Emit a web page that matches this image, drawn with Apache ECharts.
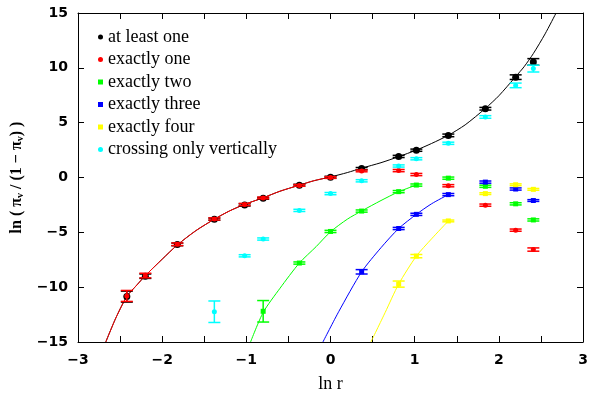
<!DOCTYPE html>
<html>
<head>
<meta charset="utf-8">
<script src="https://cdn.jsdelivr.net/npm/echarts@6/dist/echarts.min.js"></script>
<style>
  html, body { margin: 0; padding: 0; background: #fff; }
  #chart { width: 597px; height: 398px; }
</style>
</head>
<body>
<div id="chart"></div>
<script>
(function() {
    "use strict";

	/*----data: [ln r, ln(pi/(1-pi)), error]----*/
	var atLeastOne = [
		[-2.42, -10.86, 0.5], [-2.2, -9.0, 0.2], [-1.82, -6.1, 0.12], [-1.38, -3.8, 0.1],
		[-1.02, -2.5, 0.1], [-0.8, -1.9, 0.08], [-0.37, -0.7, 0.08], [0, 0.03, 0.08],
		[0.37, 0.81, 0.1], [0.81, 1.92, 0.1], [1.02, 2.49, 0.1], [1.4, 3.84, 0.12],
		[1.84, 6.27, 0.12], [2.2, 9.15, 0.21], [2.41, 10.54, 0.3]
	];
	var exactlyOne = [
		[-2.42, -10.8, 0.5], [-2.2, -8.94, 0.21], [-1.82, -6.09, 0.12], [-1.38, -3.78, 0.1],
		[-1.02, -2.46, 0.1], [-0.8, -1.86, 0.08], [-0.37, -0.72, 0.08], [0, 0.0, 0.08],
		[0.37, 0.6, 0.08], [0.81, 0.63, 0.1], [1.02, 0.27, 0.1], [1.4, -0.75, 0.1],
		[1.84, -2.52, 0.1], [2.2, -4.8, 0.1], [2.41, -6.57, 0.15]
	];
	var exactlyTwo = [
		[-0.8, -12.2, 0.98], [-0.37, -7.8, 0.1], [0, -4.92, 0.1], [0.37, -3.06, 0.1],
		[0.81, -1.29, 0.1], [1.02, -0.69, 0.1], [1.4, -0.06, 0.1], [1.84, -0.8, 0.1],
		[2.2, -2.4, 0.1], [2.41, -3.87, 0.1]
	];
	var exactlyThree = [
		[0.37, -8.6, 0.2], [0.81, -4.65, 0.1], [1.02, -3.36, 0.1], [1.4, -1.56, 0.1],
		[1.84, -0.42, 0.1], [2.2, -1.05, 0.1], [2.41, -2.1, 0.08]
	];
	var exactlyFour = [
		[0.81, -9.72, 0.28], [1.02, -7.17, 0.15], [1.4, -3.96, 0.08], [1.84, -1.47, 0.08],
		[2.2, -0.66, 0.08], [2.41, -1.08, 0.08]
	];
	var vertOnly = [
		[-1.38, -12.24, 0.98], [-1.02, -7.14, 0.1], [-0.8, -5.61, 0.1], [-0.37, -3.0, 0.1],
		[0, -1.47, 0.1], [0.37, -0.3, 0.1], [0.81, 1.05, 0.1], [1.02, 1.71, 0.1],
		[1.4, 3.12, 0.1], [1.84, 5.52, 0.12], [2.2, 8.4, 0.21], [2.41, 9.93, 0.31]
	];

	/*----fit curves----*/
	var fitAtLeastOne = [
		[-2.67, -15], [-2.55, -12.8], [-2.42, -10.85], [-2.3, -9.8], [-2.2, -8.95],
		[-2.0, -7.45], [-1.82, -6.15], [-1.6, -4.85], [-1.38, -3.8], [-1.2, -3.05],
		[-1.02, -2.45], [-0.8, -1.85], [-0.6, -1.25], [-0.37, -0.7], [-0.2, -0.3],
		[0, 0.05], [0.2, 0.45], [0.37, 0.85], [0.6, 1.35], [0.81, 1.9], [1.02, 2.5],
		[1.2, 3.1], [1.4, 3.85], [1.6, 4.8], [1.84, 6.3], [2.0, 7.45], [2.2, 9.2],
		[2.3, 10.1], [2.41, 11.3], [2.55, 13.1], [2.68, 15]
	];
	var fitOne = [
		[-2.67, -15], [-2.55, -12.8], [-2.42, -10.85], [-2.3, -9.8], [-2.2, -8.95],
		[-2.0, -7.45], [-1.82, -6.15], [-1.6, -4.85], [-1.38, -3.8], [-1.2, -3.05],
		[-1.02, -2.45], [-0.8, -1.85], [-0.6, -1.25], [-0.37, -0.7], [-0.2, -0.3],
		[0, 0.05]
	];
	var fitTwo = [
		[-0.95, -15], [-0.8, -12.3], [-0.6, -10.1], [-0.37, -7.8], [-0.17, -6.3],
		[0, -4.95], [0.2, -3.8], [0.37, -3.05], [0.6, -2.1], [0.81, -1.3], [1.02, -0.69]
	];
	var fitThree = [
		[-0.09, -15], [0.1, -12.2], [0.37, -8.6], [0.6, -6.4], [0.81, -4.65],
		[1.02, -3.36], [1.2, -2.4], [1.4, -1.56]
	];
	var fitFour = [
		[0.48, -15], [0.65, -12.3], [0.81, -9.72], [1.02, -7.17], [1.2, -5.6], [1.4, -3.96]
	];

	var names = ['at least one', 'exactly one', 'exactly two', 'exactly three', 'exactly four', 'crossing only vertically'];
	var colors = ['#000000', '#ff0000', '#00ff00', '#0000ff', '#ffff00', '#00ffff'];
	var symbols = ['circle', 'circle', 'rect', 'rect', 'rect', 'circle'];
	var pointSets = [atLeastOne, exactlyOne, exactlyTwo, exactlyThree, exactlyFour, vertOnly];
	var fitSets = [fitAtLeastOne, fitOne, fitTwo, fitThree, fitFour];

	function minusSign(v) {
		return String(v).replace('-', '\u2212');
	}

	function errorBar(color) {
		return function(params, api) {
			var x = api.value(0), y = api.value(1), e = api.value(2);
			var hi = api.coord([x, y + e]);
			var lo = api.coord([x, y - e]);
			var w = 6;
			var st = { stroke: color, lineWidth: 1.5 };
			return {
				type: 'group',
				children: [
					{ type: 'line', shape: { x1: hi[0], y1: hi[1], x2: lo[0], y2: lo[1] }, style: st },
					{ type: 'line', shape: { x1: hi[0] - w, y1: hi[1], x2: hi[0] + w, y2: hi[1] }, style: st },
					{ type: 'line', shape: { x1: lo[0] - w, y1: lo[1], x2: lo[0] + w, y2: lo[1] }, style: st }
				]
			};
		};
	}

	var series = [];
	fitSets.forEach(function(d, i) {
		series.push({
			type: 'line',
			data: d,
			smooth: 0.25,
			showSymbol: false,
			silent: true,
			clip: true,
			lineStyle: { color: colors[i], width: 1 },
			z: 2
		});
	});
	pointSets.forEach(function(d, i) {
		series.push({
			type: 'custom',
			data: d,
			renderItem: errorBar(colors[i]),
			encode: { x: 0, y: 1 },
			silent: true,
			z: 3 + i
		});
		series.push({
			name: names[i],
			type: 'scatter',
			data: d.map(function(p) { return [p[0], p[1]]; }),
			symbol: symbols[i],
			symbolSize: i === 0 ? 7 : 5,
			itemStyle: { color: colors[i], opacity: 1 },
			z: 3 + i
		});
	});

	var axisLineStyle = { onZero: false, lineStyle: { color: '#000', width: 1 } };
	var tickStyle = { inside: true, length: 6, lineStyle: { color: '#000' } };
	var tickFont = { fontFamily: 'DejaVu Sans', fontWeight: 'bold', fontSize: 14, color: '#000' };

	var chart = echarts.init(document.getElementById('chart'));
	var option = {
		animation: false,
		backgroundColor: '#fff',
		grid: { left: 78, right: 14, top: 13, bottom: 52 },
		legend: {
			orient: 'vertical',
			left: 98,
			top: 28,
			padding: 0,
			itemWidth: 5,
			itemHeight: 5,
			itemGap: 4.5,
			data: names,
			textStyle: { fontFamily: 'Liberation Serif', fontSize: 18, color: '#000' }
		},
		xAxis: [{
			type: 'value',
			min: -3, max: 3, interval: 0.5,
			name: 'ln r',
			nameLocation: 'middle',
			nameGap: 33,
			nameTextStyle: { fontFamily: 'Liberation Serif', fontSize: 18, color: '#000' },
			axisLine: axisLineStyle,
			axisTick: tickStyle,
			splitLine: { show: false },
			axisLabel: Object.assign({
				margin: 11,
				formatter: function(v) { return Number.isInteger(v) ? minusSign(v) : ''; }
			}, tickFont)
		}, {
			type: 'value',
			position: 'top',
			min: -3, max: 3, interval: 0.5,
			axisLine: axisLineStyle,
			axisTick: tickStyle,
			axisLabel: { show: false },
			splitLine: { show: false }
		}],
		yAxis: [{
			type: 'value',
			min: -15, max: 15, interval: 5,
			name: '{t|ln ( π}{s|v}{t| / (1 − π}{s|v}{t|) )}',
			nameLocation: 'middle',
			nameGap: 52,
			nameRotate: 90,
			nameTextStyle: {
				rich: {
					t: { fontFamily: 'Liberation Serif', fontWeight: 'bold', fontSize: 16, color: '#000' },
					s: { fontFamily: 'Liberation Serif', fontWeight: 'bold', fontSize: 10, color: '#000', padding: [9, 0, 0, 0] }
				}
			},
			axisLine: axisLineStyle,
			axisTick: tickStyle,
			splitLine: { show: false },
			axisLabel: Object.assign({
				margin: 10,
				formatter: function(v) { return minusSign(v); }
			}, tickFont)
		}, {
			type: 'value',
			position: 'right',
			min: -15, max: 15, interval: 5,
			axisLine: axisLineStyle,
			axisTick: tickStyle,
			axisLabel: { show: false },
			splitLine: { show: false }
		}],
		series: series
	};
	chart.setOption(option);

})();
</script>
</body>
</html>
